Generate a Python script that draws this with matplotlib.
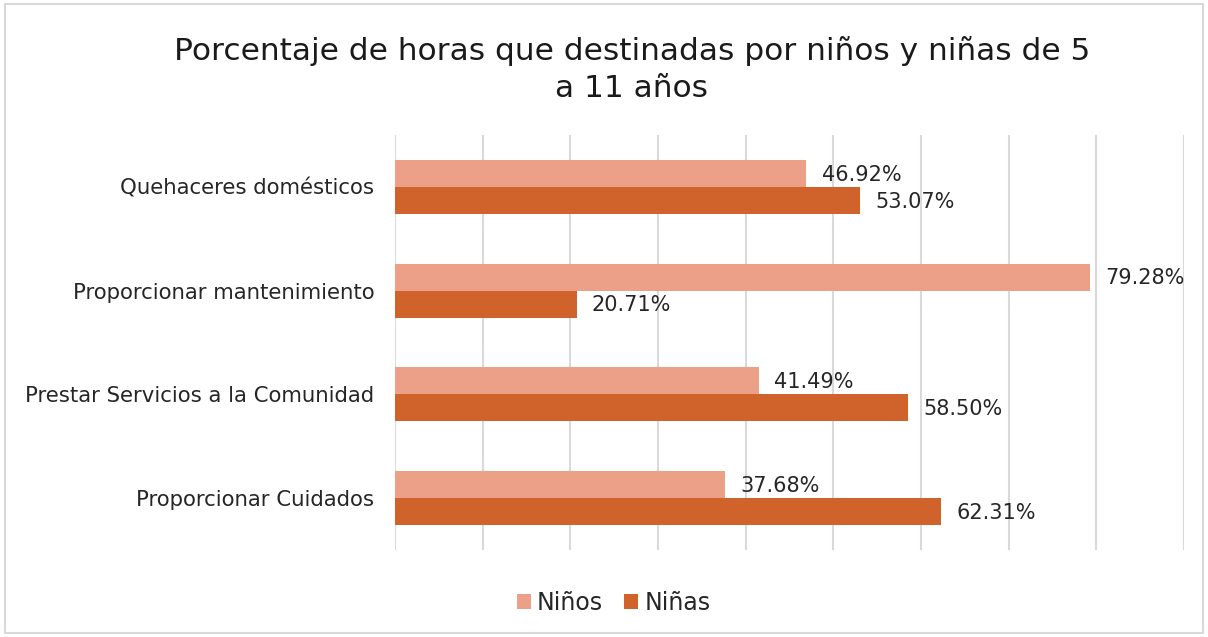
import numpy as np
import matplotlib
matplotlib.use("Agg")
import matplotlib.pyplot as plt
from matplotlib.patches import Rectangle

# -----------------------------------------------------------------------------
# Data
# -----------------------------------------------------------------------------
categorias = [
    "Quehaceres domésticos",
    "Proporcionar mantenimiento",
    "Prestar Servicios a la Comunidad",
    "Proporcionar Cuidados",
]
ninos = [46.92, 79.28, 41.49, 37.68]
ninas = [53.07, 20.71, 58.50, 62.31]

COLOR_NINOS = "#EDA088"
COLOR_NINAS = "#D0622B"

plt.rcParams["font.family"] = ["DejaVu Sans"]

fig = plt.figure(figsize=(12.08, 6.37), dpi=100)
fig.patches.append(Rectangle((0.004, 0.006), 0.992, 0.988, transform=fig.transFigure,
                             fill=False, edgecolor="#D9D9D9", linewidth=1.5))

ax = fig.add_axes([0.327, 0.137, 0.653, 0.651])

y = np.arange(len(categorias))
h = 0.26
ax.barh(y - h / 2, ninos, height=h, color=COLOR_NINOS, label="Niños", zorder=3)
ax.barh(y + h / 2, ninas, height=h, color=COLOR_NINAS, label="Niñas", zorder=3)

# value labels
for i in range(len(categorias)):
    ax.annotate(f"{ninos[i]:.2f}%", (ninos[i], y[i] - h / 2), xytext=(11, -1),
                textcoords="offset points", va="center", ha="left", fontsize=15,
                color="#262626")
    ax.annotate(f"{ninas[i]:.2f}%", (ninas[i], y[i] + h / 2), xytext=(11, -1),
                textcoords="offset points", va="center", ha="left", fontsize=15,
                color="#262626")

ax.set_xlim(0, 90)
ax.set_ylim(len(categorias) - 0.5, -0.5)
ax.set_xticks(np.arange(0, 91, 10))
ax.set_xticklabels([])
ax.tick_params(axis="x", length=0)
ax.tick_params(axis="y", length=0, pad=15, labelsize=15.3, labelcolor="#262626")
ax.set_yticks(y)
ax.set_yticklabels(categorias)
ax.grid(axis="x", color="#D9D9D9", linewidth=1.5, zorder=0)
for s in ax.spines.values():
    s.set_visible(False)

fig.text(0.523, 0.891, "Porcentaje de horas que destinadas por niños y niñas de 5\na 11 años",
         ha="center", va="center", fontsize=22.5, color="#1a1a1a", linespacing=1.36)

fig.legend(loc="center", bbox_to_anchor=(0.508, 0.053), ncol=2, frameon=False,
           fontsize=17, handlelength=0.6, handleheight=0.6, handletextpad=0.25,
           columnspacing=0.9, labelcolor="#262626")

fig.savefig("out.png", dpi=100)
